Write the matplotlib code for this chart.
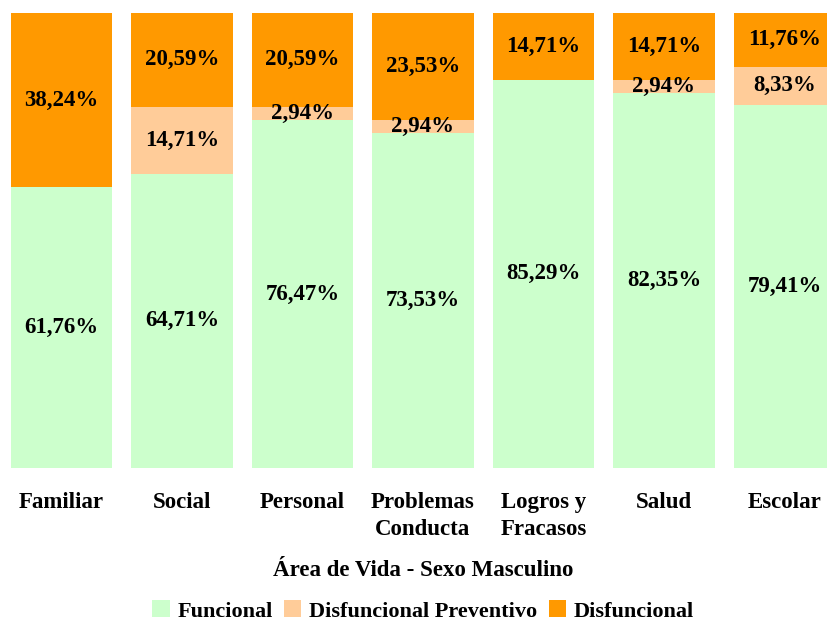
import numpy as np
import matplotlib
matplotlib.use('Agg')
from matplotlib import pyplot as plt

areas = ['Familiar', 'Social', 'Personal', 'Problemas\nConducta', 'Logros y\nFracasos', 'Salud', 'Escolar']
funcional = [61.76, 64.71, 76.47, 73.53, 85.29, 82.35, 79.41]
preventivo = [0.0, 14.71, 2.94, 2.94, 0.0, 2.94, 8.33]
disfuncional = [38.24, 20.59, 20.59, 23.53, 14.71, 14.71, 11.76]

series = [('Funcional', funcional, '#CCFFCC'),
          ('Disfuncional Preventivo', preventivo, '#FFCC99'),
          ('Disfuncional', disfuncional, '#FF9900')]

plt.rcParams['font.family'] = ['Liberation Serif', 'DejaVu Serif']
plt.rcParams['font.weight'] = 'bold'

fig = plt.figure(figsize=(8.27, 6.24), dpi=100)
ax = fig.add_axes([0, 156/624, 1, 455/624])

# 100% stacked, like the spreadsheet chart
total = np.array(funcional) + np.array(preventivo) + np.array(disfuncional)
x = np.arange(len(areas))
bottom = np.zeros(len(areas))
for name, vals, col in series:
    vals = np.array(vals)
    h = vals / total * 100
    ax.bar(x, h, 0.84, bottom=bottom, color=col, label=name)
    for i, v in enumerate(vals):
        if v > 0:
            ax.text(x[i], bottom[i] + h[i] / 2, ('%.2f%%' % v).replace('.', ','),
                    ha='center', va='center', fontsize=16.5, fontweight='bold')
    bottom += h

ax.set_xlim(-0.51, 6.353)
ax.set_ylim(0, 100)
ax.set_yticks([])
ax.set_xticks(x)
ax.set_xticklabels(areas, fontsize=16.5, fontweight='bold', linespacing=1.4, va='top')
ax.tick_params(axis='x', length=0, pad=17)
for s in ax.spines.values():
    s.set_visible(False)

fig.text(423/827, 1 - 570/624, 'Área de Vida - Sexo Masculino', ha='center', va='center',
         fontsize=16.5, fontweight='bold')
fig.legend(loc='center', bbox_to_anchor=(423/827, 1 - 611/624), ncol=3, frameon=False,
           prop={'size': 16, 'weight': 'bold'}, handlelength=0.8, handleheight=0.8,
           handletextpad=0.35, columnspacing=0.5, borderaxespad=0)

fig.savefig('out.png', dpi=100)
